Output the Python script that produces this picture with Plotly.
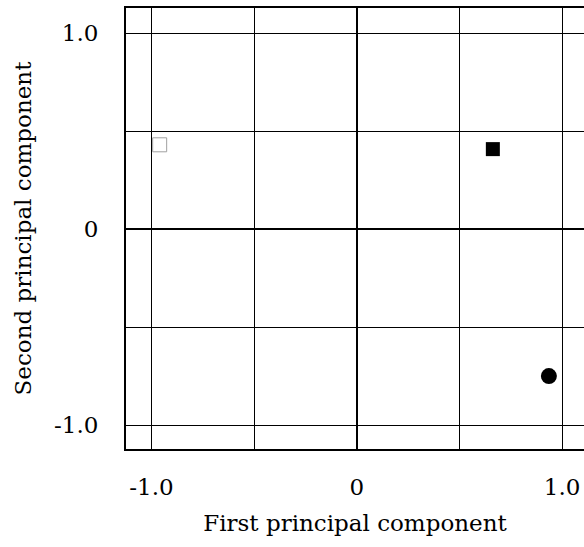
import plotly.graph_objects as go

# Data
open_sq_x = [-0.96]
open_sq_y = [0.43]
filled_sq_x = [0.663]
filled_sq_y = [0.408]
circle_x = [0.936]
circle_y = [-0.75]

x_tickvals = [-1.0, -0.5, 0.0, 0.5, 1.0]
x_ticktext = ["-1.0", "", "0", "", "1.0"]
y_tickvals = [-1.0, -0.5, 0.0, 0.5, 1.0]
y_ticktext = ["-1.0", "", "0", "", "1.0"]

FONT = "DejaVu Serif"

fig = go.Figure()
fig.add_trace(go.Scatter(
    x=open_sq_x, y=open_sq_y, mode="markers",
    marker=dict(symbol="square-open", size=14, color="#a0a0a0", line=dict(width=1, color="#a0a0a0")),
    showlegend=False))
fig.add_trace(go.Scatter(
    x=filled_sq_x, y=filled_sq_y, mode="markers",
    marker=dict(symbol="square", size=14, color="black"),
    showlegend=False))
fig.add_trace(go.Scatter(
    x=circle_x, y=circle_y, mode="markers",
    marker=dict(symbol="circle", size=16, color="black"),
    showlegend=False))

fig.update_layout(
    width=584, height=547,
    margin=dict(l=126, r=0, t=8, b=98),
    paper_bgcolor="white", plot_bgcolor="white",
    font=dict(family=FONT, size=23, color="black"),
    xaxis=dict(
        range=[-1.124, 1.107],
        tickvals=x_tickvals, ticktext=x_ticktext,
        showgrid=True, gridcolor="black", gridwidth=1,
        zeroline=True, zerolinecolor="black", zerolinewidth=2,
        showline=True, linecolor="black", linewidth=2, mirror=True,
        ticks="", ticklabelstandoff=16,
        title=dict(text="First principal component", standoff=16, font=dict(family=FONT, size=23)),
        fixedrange=True,
    ),
    yaxis=dict(
        range=[-1.122, 1.128],
        tickvals=y_tickvals, ticktext=y_ticktext,
        showgrid=True, gridcolor="black", gridwidth=1,
        zeroline=True, zerolinecolor="black", zerolinewidth=2,
        showline=True, linecolor="black", linewidth=2, mirror=False,
        ticks="", ticklabelstandoff=21,
        title=dict(text="Second principal component", standoff=16, font=dict(family=FONT, size=23)),
        fixedrange=True,
    ),
)

fig.write_html(
    "out.html",
    config={"displayModeBar": False},
    post_script="document.body.style.margin='0';document.body.style.overflow='hidden';",
)
